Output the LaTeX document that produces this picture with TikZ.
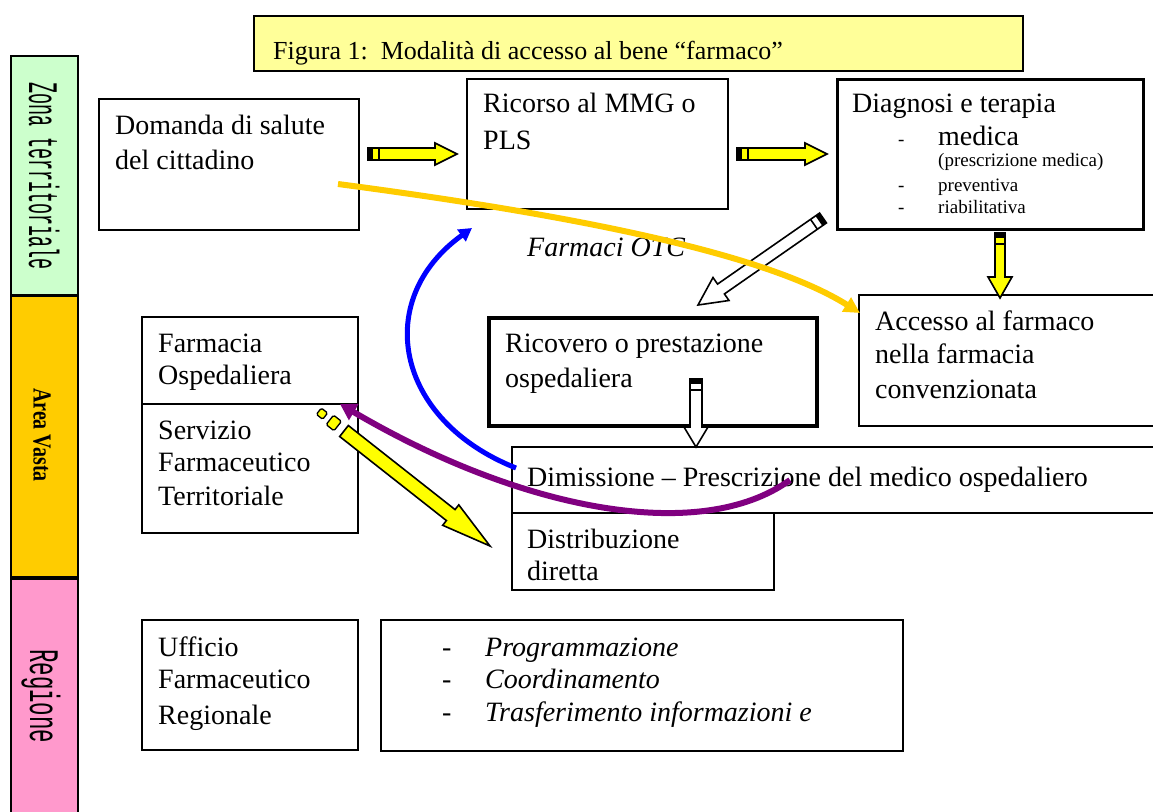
\documentclass[tikz,border=0pt]{standalone}
\usepackage{fontspec}
\setmainfont{Liberation Serif}
\newfontfamily\monof{Liberation Mono}
\usetikzlibrary{calc,arrows.meta}
\definecolor{zgreen}{HTML}{CCFFCC}
\definecolor{zorange}{HTML}{FFCC00}
\definecolor{zpink}{HTML}{FF99CC}
\definecolor{titlefill}{HTML}{FFFF99}
\definecolor{arrowyellow}{HTML}{FFFF00}
\definecolor{curveorange}{HTML}{FFCC00}
\definecolor{curveblue}{HTML}{0000FF}
\definecolor{curvepurple}{HTML}{800080}
% #1 tail, #2 tip, #3 fill, #4 shaft half width, #5 head half width, #6 head length
\newcommand\blockarrow[6]{%
  \coordinate (ba-h) at ($(#2)!#6!(#1)$);
  \coordinate (ba-b) at ($(#1)!5pt!(#2)$);
  \coordinate (ba-c) at ($(#1)!11pt!(#2)$);
  \filldraw[fill=#3, draw=black, line width=1.6pt, line join=miter]
    ($(#1)!#4!90:(#2)$) -- ($(ba-h)!#4!90:(#2)$) -- ($(ba-h)!#5!90:(#2)$) -- (#2)
    -- ($(ba-h)!#5!-90:(#2)$) -- ($(ba-h)!#4!-90:(#2)$) -- ($(#1)!#4!-90:(#2)$) -- cycle;
  \fill[black] ($(#1)!#4!90:(#2)$) -- ($(ba-b)!#4!90:(#2)$) -- ($(ba-b)!#4!-90:(#2)$) -- ($(#1)!#4!-90:(#2)$) -- cycle;
  \draw[line width=1.6pt] ($(ba-c)!#4!90:(#2)$) -- ($(ba-c)!#4!-90:(#2)$);
}
\tikzset{
  box/.style={draw=black, line width=2pt, fill=white, rectangle, inner sep=0pt, anchor=north west},
  bar/.style={draw=black, line width=2.5pt, rectangle, inner sep=0pt, anchor=north west},
  txt/.style={anchor=base west, inner sep=0pt, font=\fontsize{28}{34}\selectfont},
  small/.style={anchor=base west, inner sep=0pt, font=\fontsize{19}{22}\selectfont},
  itxt/.style={anchor=base west, inner sep=0pt, font=\fontsize{28}{34}\selectfont\itshape},
  curve/.style={line width=#1, line cap=butt},
}
\begin{document}
\begin{tikzpicture}[x=1pt,y=-1pt]
\path[use as bounding box, clip] (0,0) rectangle (1153,811);
\fill[white] (0,0) rectangle (1153,811);

% left bars
\node[bar, fill=zgreen, minimum width=67pt, minimum height=239pt] (zona) at (9.5,54.5) {};
\node[bar, fill=zorange, minimum width=67pt, minimum height=282pt] (area) at (9.5,294) {};
\node[bar, fill=zpink, minimum width=67pt, minimum height=250pt] (reg) at (9.5,577) {};
\node[rotate=-90, anchor=base west, inner sep=0pt] (zonat) at (29,82)
  {\scalebox{0.46}[1.05]{\monof\fontsize{40}{40}\selectfont Zona territoriale}};
\node[rotate=-90, inner sep=0pt] (areat) at (42,435)
  {\scalebox{1}[1.3]{\fontsize{20}{20}\selectfont\bfseries Area Vasta}};
\node[rotate=-90, anchor=base west, inner sep=0pt] (regt) at (30,649)
  {\scalebox{0.56}[1.05]{\monof\fontsize{40}{40}\selectfont Regione}};

% title
\node[box, fill=titlefill, line width=1.5pt, minimum width=769pt, minimum height=55pt] (title) at (253,15) {};
\node[anchor=base west, inner sep=0pt, font=\fontsize{26}{30}\selectfont] (titlet) at (273,59)
  {Figura 1:\ \ Modalità di accesso al bene “farmaco”};

% boxes
\node[box, minimum width=260pt, minimum height=131pt] (dom) at (98,98) {};
\node[box, minimum width=261pt, minimum height=130pt] (ric) at (466,78) {};
\node[box, line width=3pt, minimum width=306pt, minimum height=150pt] (dia) at (836,78) {};
\node[box, minimum width=310pt, minimum height=131pt] (acc) at (858,294) {};
\node[box, line width=3.5pt, minimum width=328pt, minimum height=108pt] (rico) at (487,316) {};
\node[box, minimum width=216pt, minimum height=87pt] (farmo) at (141,316) {};
\node[box, minimum width=216pt, minimum height=129pt] (farmt) at (141,403) {};
\node[box, minimum width=660pt, minimum height=66pt] (dim) at (511,446) {};
\node[box, minimum width=262pt, minimum height=77pt] (distr) at (511,512) {};
\node[box, minimum width=216pt, minimum height=130pt] (uff) at (141,619) {};
\node[box, minimum width=522pt, minimum height=131pt] (prog) at (380,619) {};

% texts
\node[txt] (dom1) at (115,134) {Domanda di salute};
\node[txt] (dom2) at (115,169) {del cittadino};
\node[txt] (ric1) at (483,112) {Ricorso al MMG o};
\node[txt] (ric2) at (483,149) {PLS};
\node[txt] (dia1) at (852,112) {Diagnosi e terapia};
\node[small] (dsh1) at (898,145) {-};
\node[txt] (dia2) at (938,145) {medica};
\node[small] (dia3) at (938,166) {(prescrizione medica)};
\node[small] (dsh2) at (898,191) {-};
\node[small] (dia4) at (938,191) {preventiva};
\node[small] (dsh3) at (898,213) {-};
\node[small] (dia5) at (938,213) {riabilitativa};
\node[txt] (acc1) at (875,330) {Accesso al farmaco};
\node[txt] (acc2) at (875,363) {nella farmacia};
\node[txt] (acc3) at (875,398) {convenzionata};
\node[txt] (rico1) at (505,352) {Ricovero o prestazione};
\node[txt] (rico2) at (505,387) {ospedaliera};
\node[txt] (fo1) at (158,352) {Farmacia};
\node[txt] (fo2) at (158,384) {Ospedaliera};
\node[txt] (sf1) at (158,439) {Servizio};
\node[txt] (sf2) at (158,471) {Farmaceutico};
\node[txt] (sf3) at (158,505) {Territoriale};
\node[txt] (dimt) at (527,486) {Dimissione – Prescrizione del medico ospedaliero};
\node[txt] (dd1) at (527,548) {Distribuzione};
\node[txt] (dd2) at (527,580) {diretta};
\node[txt] (uf1) at (158,656) {Ufficio};
\node[txt] (uf2) at (158,688) {Farmaceutico};
\node[txt] (uf3) at (158,724) {Regionale};
\node[txt] (pd1) at (442,656) {-};
\node[txt] (pd2) at (442,688) {-};
\node[txt] (pd3) at (442,721) {-};
\node[itxt] (pr1) at (485,656) {Programmazione};
\node[itxt] (pr2) at (485,688) {Coordinamento};
\node[itxt] (pr3) at (485,721) {Trasferimento informazioni e};
\node[itxt] (otc) at (527,256) {Farmaci OTC};

% block arrows
\coordinate (a1t) at (368,154); \coordinate (a1h) at (457,154);
\coordinate (a2t) at (737,154); \coordinate (a2h) at (827,154);
\coordinate (a3t) at (1000,233); \coordinate (a3h) at (1000,298);
\coordinate (a4t) at (696,379); \coordinate (a4h) at (696,447);
\coordinate (a5t) at (823,218); \coordinate (a5h) at (698,305);
\coordinate (a6t) at (344,431); \coordinate (a6h) at (490,546);
\blockarrow{a1t}{a1h}{arrowyellow}{6pt}{11pt}{22pt}
\blockarrow{a2t}{a2h}{arrowyellow}{6pt}{11pt}{22pt}
\blockarrow{a3t}{a3h}{arrowyellow}{5pt}{12pt}{21pt}
\blockarrow{a4t}{a4h}{white}{6pt}{12pt}{20pt}
\blockarrow{a5t}{a5h}{white}{6pt}{14pt}{28pt}
\filldraw[fill=arrowyellow, draw=black, line width=1.6pt, line join=miter]
  ($(a6t)!7pt!90:(a6h)$) -- ($($(a6h)!50pt!(a6t)$)!7pt!90:(a6h)$) -- ($($(a6h)!50pt!(a6t)$)!13pt!90:(a6h)$) -- (a6h)
  -- ($($(a6h)!50pt!(a6t)$)!13pt!-90:(a6h)$) -- ($($(a6h)!50pt!(a6t)$)!7pt!-90:(a6h)$) -- ($(a6t)!7pt!-90:(a6h)$) -- cycle;
\coordinate (d1) at ($(a6t)!-13pt!(a6h)$);
\coordinate (d2) at ($(a6t)!-28pt!(a6h)$);
\filldraw[fill=arrowyellow, draw=black, line width=1.3pt, rounded corners=1.5pt]
  ($($(d1)!5pt!(a6h)$)!6pt!90:(a6h)$) -- ($($(d1)!-5pt!(a6h)$)!6pt!90:(a6h)$) -- ($($(d1)!-5pt!(a6h)$)!6pt!-90:(a6h)$) -- ($($(d1)!5pt!(a6h)$)!6pt!-90:(a6h)$) -- cycle;
\filldraw[fill=arrowyellow, draw=black, line width=1.3pt, rounded corners=1.5pt]
  ($($(d2)!4pt!(a6h)$)!4pt!90:(a6h)$) -- ($($(d2)!-4pt!(a6h)$)!4pt!90:(a6h)$) -- ($($(d2)!-4pt!(a6h)$)!4pt!-90:(a6h)$) -- ($($(d2)!4pt!(a6h)$)!4pt!-90:(a6h)$) -- cycle;

% curves
\coordinate (os) at (338,184); \coordinate (oe) at (860,313);
\draw[curve=6pt, curveorange, -{Triangle[length=16pt,width=16pt]}]
  (os) .. controls (550,212) and (760,250) .. (oe);
\coordinate (bs) at (516,468); \coordinate (be) at (472,228);
\draw[curve=5pt, curveblue, -{Triangle[length=13pt,width=14pt]}]
  (bs) .. controls (395,420) and (372,300) .. (be);
\coordinate (ps) at (790,480); \coordinate (pe) at (340,404);
\draw[curve=6pt, curvepurple, -{Triangle[length=16pt,width=18pt]}]
  (ps) .. controls (700,545) and (520,510) .. (pe);
\end{tikzpicture}
\end{document}
